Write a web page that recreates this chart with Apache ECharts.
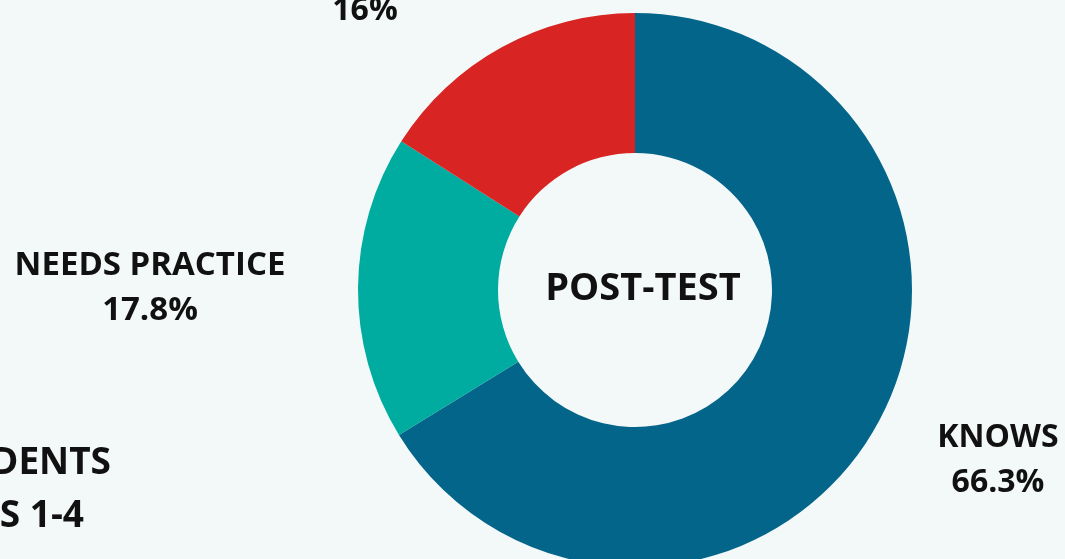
<!DOCTYPE html>
<html>
<head>
<meta charset="utf-8">
<script src="https://cdn.jsdelivr.net/npm/echarts@6/dist/echarts.min.js"></script>
<style>
  html, body { margin: 0; padding: 0; background: #f3f9f8; }
  #chart { width: 1065px; height: 559px; }
</style>
</head>
<body>
<div id="chart"></div>
<script>
// slice data, clockwise from 12 o'clock
const categories = ['KNOWS', 'NEEDS PRACTICE', "DOESN'T KNOW"]
const values = [66.3, 17.8, 16]
const valueLabels = ['66.3%', '17.8%', '16%']
const colors = ['#04658b', '#00ab9f', '#d92424']
// where each label block is centred
const labelSpots = [
  { x: 998, y: 460, showName: true },
  { x: 150, y: 288, showName: true },
  { x: 365, y: 11, showName: false }
]

const chart = echarts.init(document.getElementById('chart'))
const fontFamily = '"Open Sans", "Noto Sans", sans-serif'

chart.setOption({
  backgroundColor: '#f3f9f8',
  animation: false,
  graphic: [
    {
      type: 'text',
      z: 100,
      x: 643,
      y: 289,
      style: {
        text: 'POST-TEST',
        font: 'bold 38px ' + fontFamily,
        fill: '#111',
        align: 'center',
        verticalAlign: 'middle'
      }
    },
    {
      type: 'text',
      x: 111,
      y: 463,
      style: {
        text: 'STUDENTS',
        font: 'bold 37px ' + fontFamily,
        fill: '#111',
        align: 'right',
        verticalAlign: 'middle'
      }
    },
    {
      type: 'text',
      x: 84,
      y: 516,
      style: {
        text: 'GRADES 1-4',
        font: 'bold 37px ' + fontFamily,
        fill: '#111',
        align: 'right',
        verticalAlign: 'middle'
      }
    }
  ],
  series: [{
    type: 'pie',
    center: [635, 290],
    radius: [137, 277],
    startAngle: 90,
    clockwise: true,
    avoidLabelOverlap: false,
    data: categories.map((name, i) => ({
      name: name,
      value: values[i],
      itemStyle: { color: colors[i] },
      label: {
        fontSize: i === 1 ? 33 : 32,
        formatter: labelSpots[i].showName
          ? name + '\n' + valueLabels[i]
          : valueLabels[i]
      }
    })),
    label: {
      show: true,
      position: 'outside',
      color: '#111',
      fontFamily: fontFamily,
      fontWeight: 'bold',
      fontSize: 32,
      lineHeight: 45,
      align: 'center'
    },
    labelLine: { show: false },
    labelLayout: function (params) {
      const s = labelSpots[params.dataIndex]
      return { x: s.x, y: s.y, align: 'center', verticalAlign: 'middle' }
    },
    emphasis: { disabled: true }
  }]
})
</script>
</body>
</html>
